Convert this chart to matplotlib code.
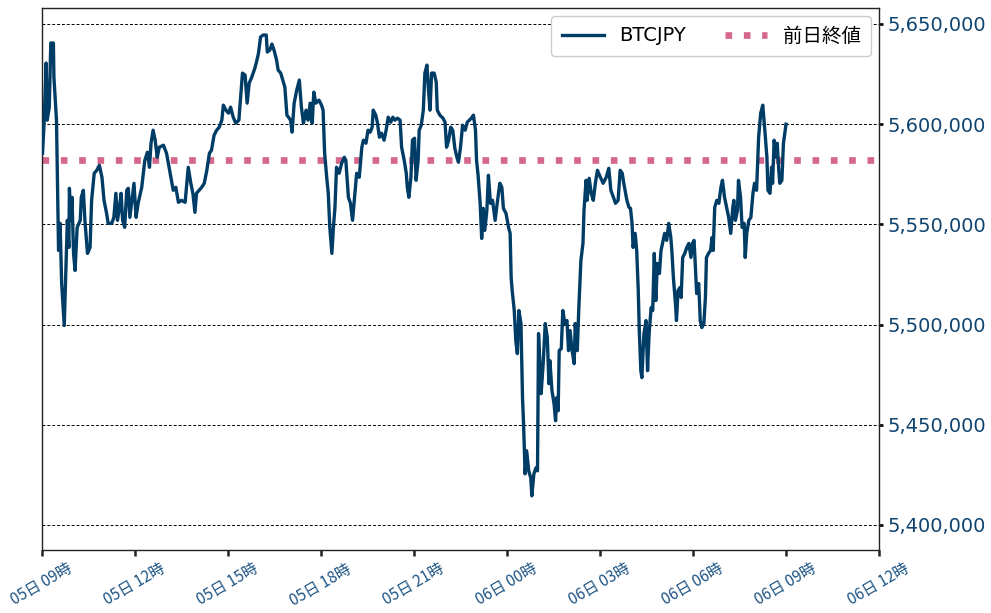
import matplotlib
matplotlib.use("Agg")
import matplotlib.pyplot as plt
import matplotlib.dates as mdates
from matplotlib.ticker import FuncFormatter, FixedLocator
import pandas as pd

plt.rcParams['font.family'] = ['DejaVu Sans', 'Noto Sans CJK JP']

# minutes elapsed since 05日 09:00
minutes = [
    1, 4, 8, 10, 14, 17, 22, 23, 28, 32, 35, 38, 43, 46, 49, 52, 53, 56, 58, 61,
    64, 68, 74, 76, 80, 83, 88, 93, 96, 101, 106, 111, 116, 120, 125, 128, 135, 139, 143, 146,
    150, 153, 156, 160, 164, 167, 170, 174, 178, 182, 186, 193, 199, 204, 208, 211, 215, 219, 223, 227,
    235, 241, 248, 254, 259, 264, 270, 277, 283, 288, 292, 296, 299, 304, 309, 314, 319, 324, 328, 333,
    338, 343, 348, 351, 356, 361, 365, 370, 375, 381, 385, 388, 393, 397, 401, 406, 412, 416, 419, 423,
    428, 434, 436, 441, 445, 449, 454, 457, 462, 466, 470, 474, 477, 481, 484, 488, 493, 498, 502, 506,
    511, 515, 519, 523, 526, 530, 536, 541, 544, 547, 551, 554, 557, 561, 564,
    567, 570, 575, 580, 585, 588, 593, 597, 601, 605, 609, 614, 619, 622, 627, 631, 635, 639, 641, 646,
    649, 653, 657, 662, 666, 670, 675, 679, 683, 688, 693, 696, 701, 705, 707, 710, 714, 717, 721, 724,
    728, 730, 734, 738, 741, 745, 748, 751, 754, 759, 763, 765, 770, 776, 780, 783, 787, 791, 795, 799,
    803, 806, 810, 814, 819, 823, 827, 831, 835, 839,
    841, 844, 848, 851, 854, 857, 861, 864, 868, 872, 877, 881, 886, 890, 893, 898, 903, 906, 908, 910,
    914, 917, 920, 923, 927, 930, 932, 935, 938, 942, 946, 948, 952, 956, 959, 961, 964, 966, 970, 974,
    978, 981, 983, 987, 991, 994, 996, 999, 1001, 1005, 1008, 1012, 1016, 1019, 1022, 1026, 1030, 1032, 1036, 1039,
    1043, 1047, 1049, 1053, 1055, 1059, 1063, 1067, 1071, 1075, 1079,
    1086, 1092, 1097, 1101, 1106, 1110, 1115, 1119, 1123, 1126, 1132, 1136, 1139, 1142, 1144, 1148, 1151, 1154, 1156, 1159,
    1161, 1165, 1169, 1172, 1175, 1179, 1182, 1185, 1188, 1191, 1195, 1198, 1201, 1205, 1209, 1213, 1217, 1219, 1222, 1226,
    1228, 1231, 1235, 1237, 1240, 1244, 1248, 1252, 1256, 1259, 1262, 1264, 1267, 1271, 1274, 1277, 1281, 1284, 1286, 1290,
    1294, 1297, 1299, 1302, 1306, 1310, 1314, 1317, 1321, 1325, 1329, 1333, 1337, 1339, 1342, 1346, 1348, 1352, 1355, 1359,
    1361, 1364, 1368, 1372, 1376, 1379, 1383, 1387, 1391, 1395, 1399, 1403, 1405, 1409, 1412, 1414, 1417, 1421, 1423, 1426,
    1428, 1432, 1435, 1440,
]

btcjpy = [
    5585500, 5600500, 5630500, 5602000, 5608500, 5640500, 5640500, 5623500, 5602000, 5537000,
    5550500, 5520500, 5499500, 5525500, 5552000, 5538500, 5568000, 5552000, 5563500, 5535500,
    5527000, 5548500, 5552000, 5563500, 5567000, 5552000, 5535500, 5538500, 5562000, 5575500,
    5577000, 5579500, 5573500, 5562000, 5555500, 5550500, 5550500, 5553500, 5565500, 5552000,
    5558500, 5565500, 5552000, 5548500, 5567000, 5568000, 5553500, 5562000, 5570500, 5553500,
    5560500, 5568500, 5582000, 5586000, 5578500, 5590500, 5597000, 5592000, 5583500, 5588500,
    5589500, 5585500, 5575500, 5567000, 5568500, 5561000, 5562000, 5561000, 5578500, 5570500,
    5565500, 5556000, 5565500, 5567000, 5568500, 5570500, 5577000, 5585500, 5587000, 5594500,
    5597000, 5598500, 5602000, 5609500, 5607000, 5605500, 5608500, 5603500, 5600500, 5602000,
    5615500, 5625500, 5624500, 5610500, 5620500, 5623500, 5628000, 5632000, 5635500, 5643500,
    5644500, 5644500, 5636000, 5637000, 5640000, 5637000, 5632000, 5627000, 5625500, 5622000,
    5618500, 5604500, 5603500, 5602000, 5596000, 5610500, 5617000, 5622000, 5608500, 5600500,
    5607000, 5602000, 5610500, 5600500, 5616000, 5610500, 5612000, 5609500, 5607000, 5585500,
    5573500, 5565500, 5548500, 5535500, 5548500,
    5558500, 5578500, 5575500, 5580500, 5583500, 5582000, 5563500, 5560500, 5552000, 5563500,
    5575500, 5573500, 5588500, 5592000, 5590500, 5597000, 5596000, 5598500, 5607000, 5604500,
    5601000, 5593500, 5595500, 5592000, 5597000, 5603500, 5601000, 5603500, 5602000, 5603000,
    5602000, 5588500, 5582000, 5575500, 5568500, 5563500, 5573500, 5592000, 5593000, 5572000,
    5582000, 5597000, 5599500, 5607000, 5625500, 5629500, 5617000, 5607000, 5625500, 5625500,
    5621000, 5607000, 5604500, 5603000, 5601000, 5588500, 5592000, 5598500, 5597000, 5588000,
    5583500, 5581000, 5588500, 5599500, 5597000, 5601000, 5602000, 5603000, 5604500, 5597000,
    5582000, 5574500, 5560500, 5543000, 5558000, 5547000, 5557000, 5574500, 5560500, 5562000,
    5552000, 5560500, 5570500, 5568500, 5558000, 5555500, 5548500, 5545500, 5523500, 5517000,
    5507000, 5492000, 5485500, 5507000, 5500500, 5463500, 5450500, 5425500, 5437000, 5427000,
    5423500, 5414500, 5425500, 5428500, 5427000, 5495500, 5478500, 5465500, 5480500, 5500500,
    5493500, 5470500, 5482000, 5467000, 5460500, 5452000, 5463500, 5457000, 5487000, 5488000,
    5507000, 5500500, 5502000, 5487000, 5497000, 5487000, 5480500, 5500500, 5487000, 5508500,
    5532000, 5540500, 5557000, 5572000, 5562000, 5573000, 5565500, 5562000, 5570500, 5577000,
    5574500,
    5570500, 5573500, 5578000, 5567000, 5563500, 5560500, 5562000, 5577000, 5575500, 5570500,
    5562000, 5558500, 5558000, 5550500, 5538500, 5545500, 5537000, 5517000, 5497000, 5477000,
    5473500, 5495500, 5502000, 5477000, 5495500, 5508500, 5507000, 5535500, 5512000, 5530500,
    5525500, 5537000, 5540500, 5545500, 5542000, 5550500, 5543500, 5537000, 5523500, 5510500,
    5502000, 5517000, 5518500, 5513500, 5533500, 5535500, 5538500, 5540500, 5533500, 5540500,
    5542000, 5532000, 5515500, 5520500, 5502000, 5498500, 5500500, 5513500, 5533500, 5535500,
    5537000, 5543500, 5537000, 5558500, 5562000, 5560500, 5568500, 5572000, 5563500, 5558500,
    5553500, 5545500, 5558500, 5562000, 5552000, 5557000, 5572000, 5563500, 5548500, 5550500,
    5533500, 5545500, 5552000, 5553500, 5565500, 5570500, 5567000, 5593500, 5605500, 5609500,
    5597000, 5583500, 5567000, 5565500, 5578500, 5570500, 5592000, 5583500, 5590500, 5577000,
    5570500, 5572000, 5590500, 5600000,
]

prev_close = 5582000
start = pd.Timestamp("2024-03-05 09:00")
end = pd.Timestamp("2024-03-06 12:00")
tick_hours = [0, 3, 6, 9, 12, 15, 18, 21, 24, 27]
y_ticks = [5400000, 5450000, 5500000, 5550000, 5600000, 5650000]

times = [start + pd.Timedelta(minutes=m) for m in minutes]

fig = plt.figure(figsize=(9.91, 6.13), dpi=100)
ax = fig.add_axes([0.0424, 0.1028, 0.8446, 0.8842])

ax.plot(times, btcjpy, color='#003d66', lw=2.4, label='BTCJPY', zorder=3)
ax.axhline(prev_close, color='#d4678b', lw=4.8, linestyle=(0, (1, 1.75)),
           label='前日終値', zorder=2)

ax.set_xlim(start, end)
ax.set_ylim(5387500, 5658000)

xt = [mdates.date2num(start + pd.Timedelta(hours=h)) for h in tick_hours]
ax.xaxis.set_major_locator(FixedLocator(xt))
ax.xaxis.set_major_formatter(mdates.DateFormatter('%d日 %H時'))
ax.tick_params(axis='x', labelsize=11, labelcolor='#1f5585', length=4, width=1.8,
               direction='out', color='#222222', labelrotation=30)
for t in ax.get_xticklabels():
    t.set_fontfamily(['Noto Sans CJK JP', 'DejaVu Sans'])

ax.yaxis.tick_right()
ax.set_yticks(y_ticks)
ax.yaxis.set_major_formatter(FuncFormatter(lambda v, p: f'{int(v):,}'))
ax.tick_params(axis='y', labelsize=14, labelcolor='#0f4470', length=3, width=2,
               direction='out', color='#111111', pad=3)

ax.grid(axis='y', color='black', linestyle='--', linewidth=0.7, dashes=(3, 2))
ax.grid(axis='x', visible=False)
for s in ax.spines.values():
    s.set_color('#222222')
    s.set_linewidth(1.0)

leg = ax.legend(loc='upper right', ncol=2, frameon=True,
                fancybox=True, edgecolor='#cccccc', framealpha=1.0,
                handlelength=2.15, handletextpad=0.8, columnspacing=2.0,
                borderpad=0.55, borderaxespad=0.4,
                prop={'family': ['DejaVu Sans', 'Noto Sans CJK JP'], 'size': 14})

fig.savefig('out.png', dpi=100)
